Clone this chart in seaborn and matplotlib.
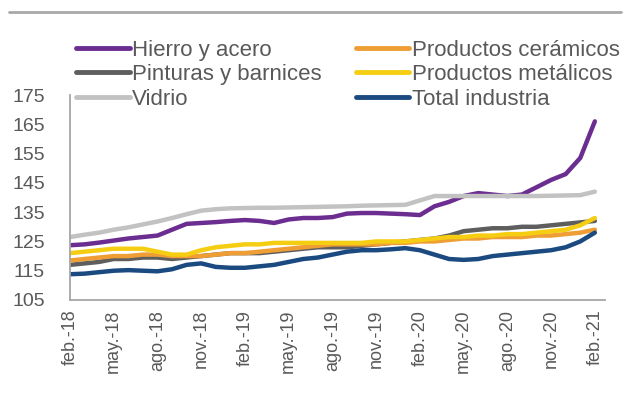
import matplotlib
matplotlib.use('Agg')
import matplotlib.pyplot as plt
from matplotlib.lines import Line2D
import seaborn as sns
import pandas as pd

# meses feb-18 .. feb-21 (37 datos mensuales)
abrev = ['ene.', 'feb.', 'mar.', 'abr.', 'may.', 'jun.', 'jul.', 'ago.', 'sep.', 'oct.', 'nov.', 'dic.']
meses = [abrev[(1 + i) % 12] + '-' + str(18 + (1 + i) // 12) for i in range(37)]

tick_labels = ['feb.-18', 'may.-18', 'ago.-18', 'nov.-18', 'feb.-19', 'may.-19', 'ago.-19',
               'nov.-19', 'feb.-20', 'may.-20', 'ago.-20', 'nov.-20', 'feb.-21']

hierro = [123.7, 124.0, 124.6, 125.3, 126.0, 126.5, 127.0, 129.0, 131.0, 131.3, 131.6, 132.0,
          132.3, 132.0, 131.3, 132.5, 133.0, 133.0, 133.3, 134.5, 134.7, 134.7, 134.5, 134.3,
          134.0, 137.0, 138.5, 140.5, 141.5, 141.0, 140.5, 141.0, 143.5, 146.0, 148.0, 153.5, 166.0]
pinturas = [117.0, 117.5, 118.0, 119.0, 119.0, 119.5, 119.5, 119.0, 119.5, 120.0, 120.5, 121.0,
            121.0, 121.0, 121.5, 122.0, 122.5, 123.0, 123.0, 123.0, 123.5, 124.0, 124.5, 125.0,
            125.5, 126.0, 127.0, 128.5, 129.0, 129.5, 129.5, 130.0, 130.0, 130.5, 131.0, 131.5, 132.0]
vidrio = [126.5, 127.3, 128.0, 129.0, 129.8, 130.8, 131.8, 133.0, 134.3, 135.5, 136.0, 136.3,
          136.4, 136.5, 136.5, 136.6, 136.7, 136.8, 136.9, 137.0, 137.2, 137.3, 137.4, 137.5,
          139.0, 140.5, 140.5, 140.5, 140.5, 140.5, 140.5, 140.5, 140.5, 140.6, 140.7, 140.8, 142.0]
ceramicos = [118.5, 119.0, 119.5, 120.0, 120.0, 120.5, 120.5, 120.0, 120.0, 120.0, 120.5, 121.0,
             121.0, 121.5, 122.0, 122.5, 123.0, 123.5, 124.0, 124.0, 124.0, 124.0, 124.5, 124.5,
             125.0, 125.0, 125.5, 126.0, 126.0, 126.5, 126.5, 126.5, 127.0, 127.0, 127.5, 128.0, 129.0]
metalicos = [121.0, 121.5, 122.0, 122.5, 122.5, 122.5, 121.5, 120.5, 120.5, 122.0, 123.0, 123.5,
             124.0, 124.0, 124.5, 124.5, 124.5, 124.5, 124.5, 124.5, 124.5, 125.0, 125.0, 125.0,
             125.5, 126.0, 126.5, 126.5, 127.0, 127.0, 127.5, 127.5, 128.0, 128.5, 129.0, 130.5, 133.0]
total = [113.8, 114.0, 114.5, 115.0, 115.2, 115.0, 114.8, 115.5, 117.0, 117.5, 116.3, 116.0,
         116.0, 116.5, 117.0, 118.0, 119.0, 119.5, 120.5, 121.5, 122.0, 122.0, 122.3, 122.7,
         122.0, 120.5, 119.0, 118.7, 119.0, 120.0, 120.5, 121.0, 121.5, 122.0, 123.0, 125.0, 128.0]

series = {
    'Hierro y acero': hierro,
    'Pinturas y barnices': pinturas,
    'Vidrio': vidrio,
    'Productos cerámicos': ceramicos,
    'Productos metálicos': metalicos,
    'Total industria': total,
}
colores = ['#6B2D90', '#5E5E5E', '#C2C2C2', '#EE9E34', '#F5CE14', '#1B4A80']

df = pd.DataFrame(series)
df['idx'] = range(len(meses))
df['mes'] = meses
long = df.melt(id_vars=['idx', 'mes'], var_name='serie', value_name='valor')

sns.set_style('white')
plt.rcParams['font.family'] = ['Liberation Sans', 'DejaVu Sans']
gris = '#595959'

fig = plt.figure(figsize=(6.27, 4.0), dpi=100)
ax = fig.add_axes([0.1116, 0.25, 0.8534, 0.5125])

sns.lineplot(data=long, x='idx', y='valor', hue='serie', hue_order=list(series.keys()),
             palette=colores, linewidth=3.2, ax=ax, legend=True)

ax.set_xlim(0, 36.7)
ax.set_ylim(105, 175)
ax.set_yticks(range(105, 176, 10))
ax.set_xticks(range(0, 37, 3))
ax.set_xticklabels(tick_labels, rotation=90)
ax.set_xlabel('')
ax.set_ylabel('')

for s in ['top', 'right']:
    ax.spines[s].set_visible(False)
for s in ['left', 'bottom']:
    ax.spines[s].set_color('#A6A6A6')
    ax.spines[s].set_linewidth(1.3)
ax.tick_params(axis='y', direction='out', length=6, width=1.2, color='#A6A6A6',
               labelsize=14, labelcolor=gris, pad=12)
ax.tick_params(axis='x', direction='inout', length=8, width=1.2, color='#A6A6A6',
               labelsize=13, labelcolor=gris, pad=3)

handles, labels = ax.get_legend_handles_labels()
ax.get_legend().remove()
for h in handles:
    h.set_linewidth(3.5)
fig.legend(handles, labels, ncol=2, loc='upper left', bbox_to_anchor=(0.122, 0.901),
           frameon=False, fontsize=16, labelcolor=gris, handlelength=2.4,
           handletextpad=0.1, columnspacing=1.55, labelspacing=0.16,
           borderpad=0, borderaxespad=0)

# linea separadora superior
fig.add_artist(Line2D([0.015, 0.99], [0.97, 0.97], color='#A8A8A8', linewidth=2,
                      transform=fig.transFigure))

fig.savefig('out.png', dpi=100, facecolor='white')
